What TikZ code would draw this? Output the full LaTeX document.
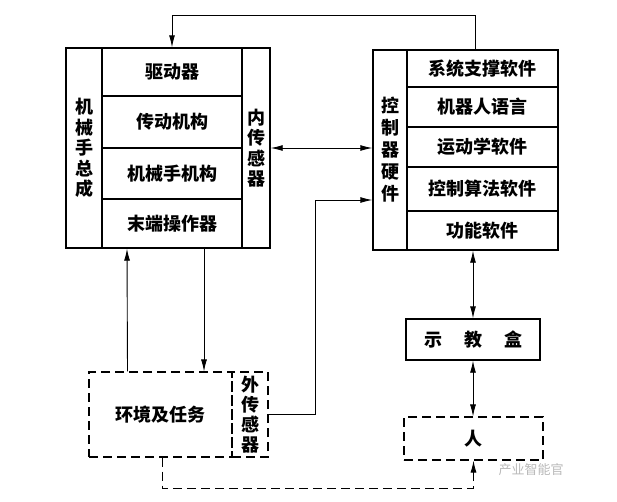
\documentclass[tikz,border=0pt]{standalone}
\usepackage{fontspec}
\newfontfamily\cjk{Noto Sans CJK SC}
\usetikzlibrary{arrows.meta,positioning,calc}
\tikzset{
  boxln/.style={draw, line width=1.4pt, inner sep=0pt, align=center,
    font=\cjk\bfseries\fontsize{18}{20.5}\selectfont},
  dashbox/.style={boxln, line width=1.1pt, dash pattern=on 9pt off 5pt},
  arr/.style={-{Latex[length=12pt,width=6pt]}, line width=0.9pt},
  dblarr/.style={{Latex[length=12pt,width=6pt]}-{Latex[length=12pt,width=6pt]}, line width=0.9pt},
  dashln/.style={dash pattern=on 9pt off 5pt, line width=0.9pt},
}

\begin{document}
\begin{tikzpicture}[x=1pt,y=-1pt]
    \useasboundingbox (0,0) rectangle (617,501);
    % manipulator block
    \node[boxln, minimum width=36pt, minimum height=200pt] (total) at (84,148) {机\\械\\手\\总\\成};
    \node[boxln, minimum width=140pt, minimum height=48pt] (drive) at (172,72) {驱动器};
    \node[boxln, minimum width=140pt, minimum height=52pt] (trans) at (172,122) {传动机构};
    \node[boxln, minimum width=140pt, minimum height=51pt] (mech) at (172,173.5) {机械手机构};
    \node[boxln, minimum width=140pt, minimum height=49pt] (end) at (172,223.5) {末端操作器};
    \node[boxln, minimum width=28pt, minimum height=200pt] (insens) at (256,148) {内\\传\\感\\器};
    % controller block
    \node[boxln, minimum width=34pt, minimum height=200pt, font=\cjk\bfseries\fontsize{18}{22}\selectfont] (ctrlhw) at (390,150) {控\\制\\器\\硬\\件};
    \node[boxln, minimum width=151pt, minimum height=37pt] (sys) at (482.5,68.5) {系统支撑软件};
    \node[boxln, minimum width=151pt, minimum height=40pt] (lang) at (482.5,107) {机器人语言};
    \node[boxln, minimum width=151pt, minimum height=40pt] (kin) at (482.5,147) {运动学软件};
    \node[boxln, minimum width=151pt, minimum height=44pt] (algo) at (482.5,189) {控制算法软件};
    \node[boxln, minimum width=151pt, minimum height=39pt] (func) at (482.5,230.5) {功能软件};
    % teach box, human, environment
    \node[boxln, minimum width=134pt, minimum height=41pt] (teach) at (473,339.5) {示\hspace{22pt}教\hspace{22pt}盒};
    \node[dashbox, minimum width=139pt, minimum height=43pt] (human) at (473.5,438.5) {人};
    \node[dashbox, minimum width=143pt, minimum height=85pt] (env) at (160.5,414.5) {环境及任务};
    \node[dashbox, minimum width=36pt, minimum height=85pt, font=\cjk\bfseries\fontsize{18}{20}\selectfont] (extsens) at (250,414.5) {外\\传\\感\\器};
    \node[text=gray!55, font=\cjk\fontsize{13}{13}\selectfont] (mark) at (531,470) {产业智能官};
    % connectors
    \draw[arr] ([xshift=-7pt]sys.north) -- ++(0,-34) -| (drive.north);
    \draw[dblarr] (insens.east) -- (insens.east -| ctrlhw.west);
    \draw[arr] (extsens.east) -- ++(47,0) |- ([yshift=-50pt]ctrlhw.west);
    \draw[arr] ([xshift=-33pt]env.north) -- ([xshift=-45pt]end.south);
    \draw[arr] ([xshift=32pt]end.south) -- ([xshift=43.5pt]env.north);
    \draw[dblarr] (teach.north |- func.south) -- (teach.north);
    \draw[dblarr] (teach.south) -- (teach.south |- human.north);
    \draw[dashln, arr] ([xshift=1.5pt]env.south) -- ++(0,31) -| (human.south);
\end{tikzpicture}
\end{document}
